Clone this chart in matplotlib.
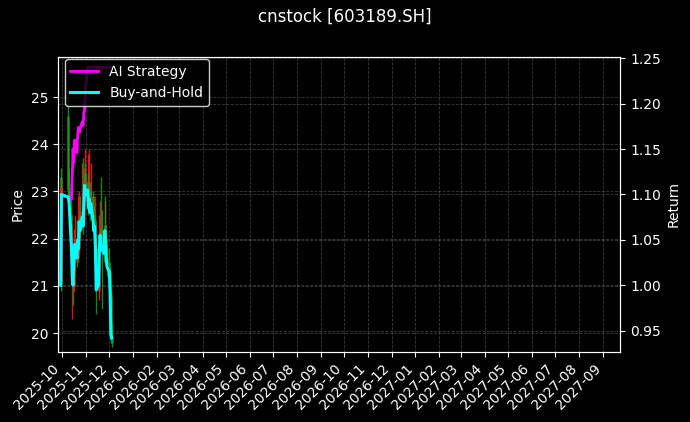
import matplotlib
matplotlib.use("Agg")
import matplotlib.pyplot as plt
import matplotlib.dates as mdates
import pandas as pd
import numpy as np

dates = pd.to_datetime([
    "2025-09-29", "2025-09-30", "2025-10-09", "2025-10-10", "2025-10-13", "2025-10-14",
    "2025-10-15", "2025-10-16", "2025-10-17", "2025-10-20", "2025-10-21", "2025-10-22",
    "2025-10-23", "2025-10-24", "2025-10-27", "2025-10-28", "2025-10-29", "2025-10-30",
    "2025-10-31", "2025-11-03", "2025-11-04", "2025-11-05", "2025-11-06", "2025-11-07",
    "2025-11-10", "2025-11-11", "2025-11-12", "2025-11-13", "2025-11-14", "2025-11-17",
    "2025-11-18", "2025-11-19", "2025-11-20", "2025-11-21", "2025-11-24", "2025-11-25",
    "2025-11-26", "2025-11-27", "2025-11-28", "2025-12-01", "2025-12-02", "2025-12-03",
    "2025-12-04",
])

opens = [23.3, 21.1, 24.6, 23.0, 22.5, 21.2, 21.3, 21.0, 21.5, 22.0, 21.6, 22.1,
         21.8, 22.5, 22.3, 22.6, 22.4, 22.9, 23.4, 23.1, 23.2, 22.8, 23.0, 22.7,
         22.9, 22.5, 22.2, 22.4, 21.8, 20.9, 21.0, 21.8, 22.2, 22.0, 21.8, 21.8,
         22.3, 22.0, 21.6, 21.4, 21.3, 20.8, 19.9]
highs = [23.5, 23.3, 25.0, 23.5, 23.1, 22.3, 21.8, 22.2, 22.5, 22.4, 22.9, 22.4,
         23.0, 22.9, 23.6, 23.7, 23.5, 23.9, 23.6, 23.8, 23.4, 23.9, 23.2, 23.6,
         23.0, 22.7, 22.9, 22.5, 21.9, 21.6, 22.5, 22.8, 23.3, 22.6, 22.2, 22.8,
         22.9, 22.3, 21.9, 21.8, 21.5, 21.0, 20.2]
lows = [20.9, 21.0, 22.9, 22.5, 21.7, 20.3, 20.6, 20.9, 21.3, 21.4, 21.5, 21.5,
        21.7, 22.0, 22.2, 22.1, 22.3, 22.8, 22.8, 22.9, 22.5, 22.7, 22.4, 22.6,
        22.3, 21.9, 22.0, 21.6, 20.4, 20.7, 20.9, 21.7, 21.8, 20.5, 21.5, 21.7,
        21.9, 21.4, 21.2, 21.1, 20.6, 19.8, 19.7]
closes = [21.00, 23.10, 23.04, 22.89, 21.84, 21.21, 21.00, 21.53, 21.95, 21.63, 22.05, 21.84,
          22.47, 22.26, 22.58, 22.37, 22.89, 23.31, 23.10, 23.21, 22.79, 23.00, 22.68, 22.89,
          22.47, 22.26, 22.37, 21.84, 20.90, 21.00, 21.84, 22.16, 21.95, 21.84, 21.74, 22.26,
          22.05, 21.63, 21.42, 21.32, 20.79, 19.85, 19.78]

ai_strategy = [1.000, 1.100, 1.097, 1.093, 1.095, 1.120, 1.150, 1.135, 1.160, 1.146, 1.165, 1.174,
               1.168, 1.172, 1.180, 1.176, 1.190, 1.193, 1.215, 1.240, 1.240, 1.240, 1.240, 1.240,
               1.240, 1.240, 1.240, 1.240, 1.240, 1.240, 1.240, 1.240, 1.240, 1.240, 1.240, 1.240,
               1.240, 1.240, 1.240, 1.240, 1.240, 1.240, 1.240]
buy_hold = [1.000, 1.100, 1.097, 1.090, 1.040, 1.010, 1.000, 1.025, 1.045, 1.030, 1.050, 1.040,
            1.070, 1.060, 1.075, 1.065, 1.090, 1.110, 1.100, 1.105, 1.085, 1.095, 1.080, 1.090,
            1.070, 1.060, 1.065, 1.040, 0.995, 1.000, 1.040, 1.055, 1.045, 1.040, 1.035, 1.060,
            1.050, 1.030, 1.020, 1.015, 0.990, 0.945, 0.942]

title = "cnstock [603189.SH]"

plt.rcParams['font.family'] = ['DejaVu Sans']
fig = plt.figure(figsize=(6.9, 4.22), dpi=100, facecolor='black')
ax1 = fig.add_axes([0.084, 0.166, 0.815, 0.699])
ax1.set_facecolor('black')

o = np.array(opens); c = np.array(closes)
up = c >= o
colors = np.where(up, '#ff1a1a', '#1e9a1e')
ax1.vlines(dates, lows, highs, colors=colors, linewidth=1.0, alpha=0.85, zorder=2)
ax1.vlines(dates, np.minimum(o, c), np.maximum(o, c), colors=colors, linewidth=1.8, alpha=0.85, zorder=2)

ax2 = ax1.twinx()
ax2.plot(dates, ai_strategy, color='magenta', linewidth=2, label='AI Strategy', zorder=3)
ax2.plot(dates, buy_hold, color='cyan', linewidth=2.2, label='Buy-and-Hold', zorder=3)

ax1.set_xlim(pd.Timestamp("2025-09-25 12:00"), pd.Timestamp("2027-09-23"))
ax1.set_ylim(19.6, 25.85)
ax2.set_ylim(0.9265, 1.2515)

ax1.xaxis.set_major_locator(mdates.MonthLocator())
ax1.xaxis.set_major_formatter(mdates.DateFormatter('%Y-%m'))
for lab in ax1.get_xticklabels():
    lab.set_rotation(45)
    lab.set_ha('right')
    lab.set_rotation_mode('default')

for ax in (ax1, ax2):
    ax.tick_params(colors='white', labelsize=10)
    for sp in ax.spines.values():
        sp.set_color('white')
    ax.grid(True, linestyle='--', linewidth=0.6, color='gray', alpha=0.45)

ax1.set_ylabel('Price', color='white', fontsize=10)
ax2.set_ylabel('Return', color='white', fontsize=10)
ax1.set_yticks([20, 21, 22, 23, 24, 25])

leg = ax2.legend(loc='upper left', bbox_to_anchor=(0.0, 1.015), facecolor='black',
                 edgecolor='white', framealpha=0.8, fontsize=10)
for t in leg.get_texts():
    t.set_color('white')

fig.suptitle(title, color='white', fontsize=12, y=0.982)
fig.savefig('out.png', dpi=100, facecolor='black')
